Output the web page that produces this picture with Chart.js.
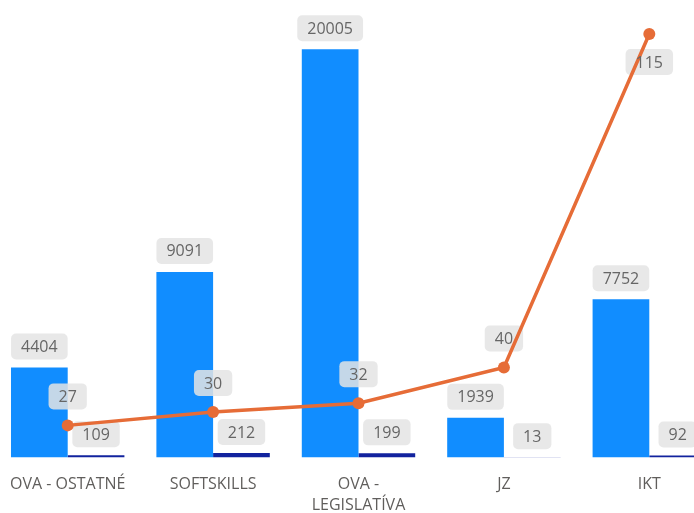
<!DOCTYPE html>
<html>
<head>
<meta charset="utf-8">
<script src="https://cdn.jsdelivr.net/npm/chart.js@4"></script>
<style>
  html, body { margin: 0; padding: 0; background: #fff; overflow: hidden; }
  #wrap { position: relative; width: 694px; height: 513px; overflow: hidden; }
  #wrap canvas { position: absolute; left: -11px; top: 0; }
</style>
</head>
<body>
<div id="wrap"><canvas id="chart" width="739" height="513"></canvas></div>
<script>
const categories = ['OVA - OSTATNÉ', 'SOFTSKILLS', ['OVA -', 'LEGISLATÍVA'], 'JZ', 'IKT'];
const hoursValues = [4404, 9091, 20005, 1939, 7752];
const courseValues = [109, 212, 199, 13, 92];
const lineValues = [27, 30, 32, 40, 115];

const labelFont = '16px "Segoe UI", "Open Sans", sans-serif';

function drawBox(ctx, text, cx, y, below) {
    ctx.font = labelFont;
    const w = ctx.measureText(text).width + 20;
    const h = 26;
    const top = below ? y : y - h;
    ctx.fillStyle = 'rgba(228,228,228,0.85)';
    ctx.beginPath();
    ctx.roundRect(cx - w / 2, top, w, h, 5);
    ctx.fill();
    return top + h / 2;
}

function drawText(ctx, text, cx, cy) {
    ctx.font = labelFont;
    ctx.fillStyle = '#666666';
    ctx.textAlign = 'center';
    ctx.textBaseline = 'middle';
    ctx.fillText(text, cx, cy + 1);
}

// grey value badges; line badges go under the line, their text on top
const badges = {
    id: 'badges',
    beforeDatasetDraw(chart, args) {
        if (args.meta.type !== 'line') return;
        const ctx = chart.ctx;
        const vals = chart.data.datasets[args.index].data;
        args.meta._badgeCenters = args.meta.data.map((pt, i) => {
            const below = pt.y - 16 - 26 < chart.chartArea.top;
            const y = below ? pt.y + 15 : pt.y - 16;
            return drawBox(ctx, String(vals[i]), pt.x, y, below);
        });
    },
    afterDatasetDraw(chart, args) {
        const ctx = chart.ctx;
        const vals = chart.data.datasets[args.index].data;
        if (args.meta.type === 'line') {
            args.meta.data.forEach((pt, i) => drawText(ctx, String(vals[i]), pt.x, args.meta._badgeCenters[i]));
            return;
        }
        args.meta.data.forEach((bar, i) => {
            const cy = drawBox(ctx, String(vals[i]), bar.x, bar.y - 8, false);
            drawText(ctx, String(vals[i]), bar.x, cy);
        });
    }
};

new Chart(document.getElementById('chart'), {
    data: {
        labels: categories,
        datasets: [
            {
                type: 'line', data: lineValues, yAxisID: 'y1', order: 0,
                borderColor: '#E66C37', backgroundColor: '#E66C37',
                borderWidth: 3.5, pointRadius: 6, pointBorderWidth: 0, tension: 0
            },
            {
                type: 'bar', data: hoursValues, yAxisID: 'y', order: 1,
                backgroundColor: '#118DFF', barPercentage: 1, categoryPercentage: 0.78
            },
            {
                type: 'bar', data: courseValues, yAxisID: 'y', order: 2,
                backgroundColor: '#12239E', barPercentage: 1, categoryPercentage: 0.78
            }
        ]
    },
    options: {
        responsive: false,
        animation: false,
        layout: { padding: { top: 10, left: 0, right: 0, bottom: -20 } },
        plugins: { legend: { display: false }, tooltip: { enabled: false } },
        scales: {
            x: {
                grid: { display: false, drawTicks: false },
                border: { display: false },
                ticks: {
                    color: '#605E5C', padding: 17, maxRotation: 0, autoSkip: false,
                    font: { family: '"Segoe UI", "Open Sans", sans-serif', size: 16, lineHeight: 1.3 }
                }
            },
            y: { display: false, min: 0, max: 21930 },
            y1: { display: false, min: 19.8, max: 120.4 }
        }
    },
    plugins: [badges]
});
</script>
</body>
</html>
